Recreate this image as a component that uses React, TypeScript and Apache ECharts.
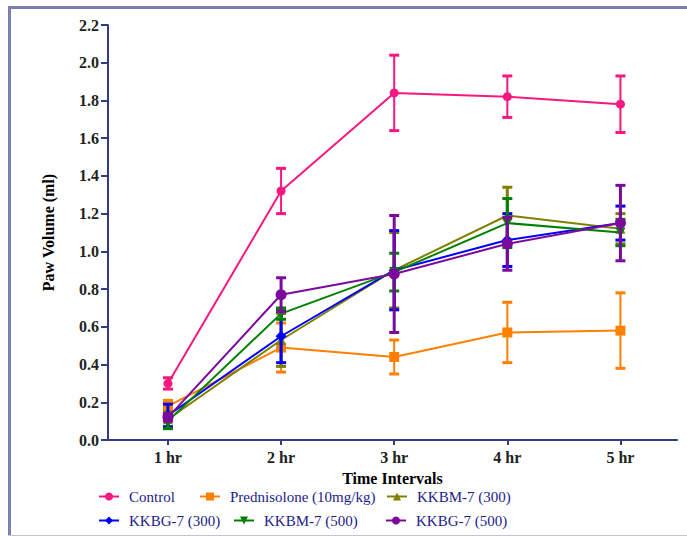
import React, { useEffect, useRef } from "react";
import * as echarts from "echarts";

const timeLabels = ["1 hr", "2 hr", "3 hr", "4 hr", "5 hr"];
const timePositions = [1, 2, 3, 4, 5];
const yTicks = [0, 0.2, 0.4, 0.6, 0.8, 1.0, 1.2, 1.4, 1.6, 1.8, 2.0, 2.2];

const seriesNames = [
  "Control",
  "Prednisolone (10mg/kg)",
  "KKBM-7 (300)",
  "KKBG-7 (300)",
  "KKBM-7 (500)",
  "KKBG-7 (500)",
];
const controlMean = [0.30, 1.32, 1.84, 1.82, 1.78];
const controlErr = [0.03, 0.12, 0.20, 0.11, 0.15];
const predMean = [0.18, 0.49, 0.44, 0.57, 0.58];
const predErr = [0.03, 0.13, 0.09, 0.16, 0.20];
const kkbm300Mean = [0.11, 0.53, 0.90, 1.19, 1.12];
const kkbm300Err = [0.04, 0.14, 0.20, 0.15, 0.08];
const kkbg300Mean = [0.13, 0.55, 0.90, 1.06, 1.15];
const kkbg300Err = [0.06, 0.14, 0.21, 0.14, 0.09];
const kkbm500Mean = [0.10, 0.67, 0.89, 1.15, 1.10];
const kkbm500Err = [0.04, 0.03, 0.10, 0.13, 0.07];
const kkbg500Mean = [0.12, 0.77, 0.88, 1.04, 1.15];
const kkbg500Err = [0.02, 0.09, 0.31, 0.14, 0.20];

const means = [controlMean, predMean, kkbm300Mean, kkbg300Mean, kkbm500Mean, kkbg500Mean];
const errs = [controlErr, predErr, kkbm300Err, kkbg300Err, kkbm500Err, kkbg500Err];
const colors = ["#F5187F", "#FF8000", "#808000", "#0000FF", "#008000", "#7B0A9C"];
const symbols = [
  "circle",
  "rect",
  "triangle",
  "diamond",
  "path://M0,0 L10,0 L5,9 Z",
  "circle",
];
const symbolSizes = [9, 10, 10, 11, 10, 11];
const errWidths = [2, 2, 3, 3, 3, 3];

const legendPos = [
  { left: 98, top: 489 },
  { left: 199, top: 489 },
  { left: 386, top: 489 },
  { left: 98, top: 513 },
  { left: 233, top: 513 },
  { left: 385, top: 513 },
];

const SERIF = "'Liberation Serif', 'Times New Roman', serif";
const AXIS_COLOR = "#353a85";

export default function App() {
  const ref = useRef<HTMLDivElement>(null);
  useEffect(() => {
    if (!ref.current) return;
    const chart = echarts.init(ref.current, undefined, { renderer: "svg" });

    const lineSeries = seriesNames.map((name, i) => ({
      name,
      type: "line",
      data: timePositions.map((x, j) => [x, means[i][j]]),
      symbol: symbols[i],
      symbolSize: symbolSizes[i],
      itemStyle: { color: colors[i] },
      lineStyle: { color: colors[i], width: 2 },
      z: 10 + i * 2,
    }));

    const errSeries = seriesNames.map((name, i) => ({
      name: name + " SEM",
      type: "custom",
      data: timePositions.map((x, j) => [x, means[i][j] - errs[i][j], means[i][j] + errs[i][j]]),
      z: 9 + i * 2,
      itemStyle: { color: colors[i] },
      renderItem: (params: any, api: any) => {
        const x = api.value(0);
        const lo = api.value(1);
        const hi = api.value(2);
        const top = api.coord([x, hi]);
        const bot = api.coord([x, lo]);
        const hw = 5;
        const st = { stroke: colors[i], lineWidth: errWidths[i] };
        const capSt = { stroke: colors[i], lineWidth: 3 };
        return {
          type: "group",
          children: [
            { type: "line", shape: { x1: top[0], y1: top[1], x2: bot[0], y2: bot[1] }, style: st },
            { type: "line", shape: { x1: top[0] - hw, y1: top[1], x2: top[0] + hw, y2: top[1] }, style: capSt },
            { type: "line", shape: { x1: bot[0] - hw, y1: bot[1], x2: bot[0] + hw, y2: bot[1] }, style: capSt },
          ],
        };
      },
    }));

    const legends = seriesNames.map((name, i) => ({
      data: [name],
      left: legendPos[i].left,
      top: legendPos[i].top,
      padding: 0,
      itemWidth: 20,
      itemHeight: 10,
      textStyle: {
        fontFamily: SERIF,
        fontSize: 15,
        color: "#1c1c8a",
        padding: [0, 0, 0, 5],
      },
    }));

    chart.setOption({
      animation: false,
      backgroundColor: "#ffffff",
      textStyle: { fontFamily: SERIF },
      grid: { left: 108, top: 25, right: 10, bottom: 96, containLabel: false },
      xAxis: {
        type: "value",
        min: 0.47,
        max: 5.5,
        name: "Time Intervals",
        nameLocation: "middle",
        nameGap: 30,
        nameTextStyle: { fontFamily: SERIF, fontSize: 16, fontWeight: "bold", color: "#000" },
        axisLine: { show: true, lineStyle: { color: AXIS_COLOR, width: 2 } },
        axisTick: {
          show: true,
          length: 5,
          customValues: timePositions,
          lineStyle: { color: AXIS_COLOR, width: 2 },
        },
        axisLabel: {
          customValues: timePositions,
          formatter: (v: number) => timeLabels[timePositions.indexOf(Math.round(v))] ?? "",
          fontFamily: SERIF,
          fontSize: 16,
          fontWeight: "bold",
          color: "#222",
          margin: 9,
        },
        splitLine: { show: false },
      },
      yAxis: {
        type: "value",
        min: 0,
        max: 2.2,
        interval: 0.2,
        name: "Paw Volume (ml)",
        nameLocation: "middle",
        nameGap: 52,
        nameTextStyle: { fontFamily: SERIF, fontSize: 16, fontWeight: "bold", color: "#000" },
        axisLine: { show: true, lineStyle: { color: AXIS_COLOR, width: 2 } },
        axisTick: { show: true, length: 7, lineStyle: { color: AXIS_COLOR, width: 2 } },
        axisLabel: {
          customValues: yTicks,
          formatter: (v: number) => v.toFixed(1),
          fontFamily: SERIF,
          fontSize: 16,
          fontWeight: "bold",
          color: "#222",
          margin: 9,
        },
        splitLine: { show: false },
      },
      legend: legends,
      graphic: [
        { type: "line", shape: { x1: 8, y1: 7.5, x2: 687, y2: 7.5 }, style: { stroke: "#7b7fb0", lineWidth: 3 } },
        { type: "line", shape: { x1: 9.5, y1: 6, x2: 9.5, y2: 536 }, style: { stroke: "#7b7fb0", lineWidth: 3 } },
        { type: "line", shape: { x1: 8, y1: 535.5, x2: 687, y2: 535.5 }, style: { stroke: "#c4c4cc", lineWidth: 1 } },
      ],
      series: [...errSeries, ...lineSeries],
    });
    return () => chart.dispose();
  }, []);
  return (
    <div
      ref={ref}
      style={{ position: "fixed", left: 0, top: 0, width: 687, height: 536, background: "#fff" }}
    />
  );
}
